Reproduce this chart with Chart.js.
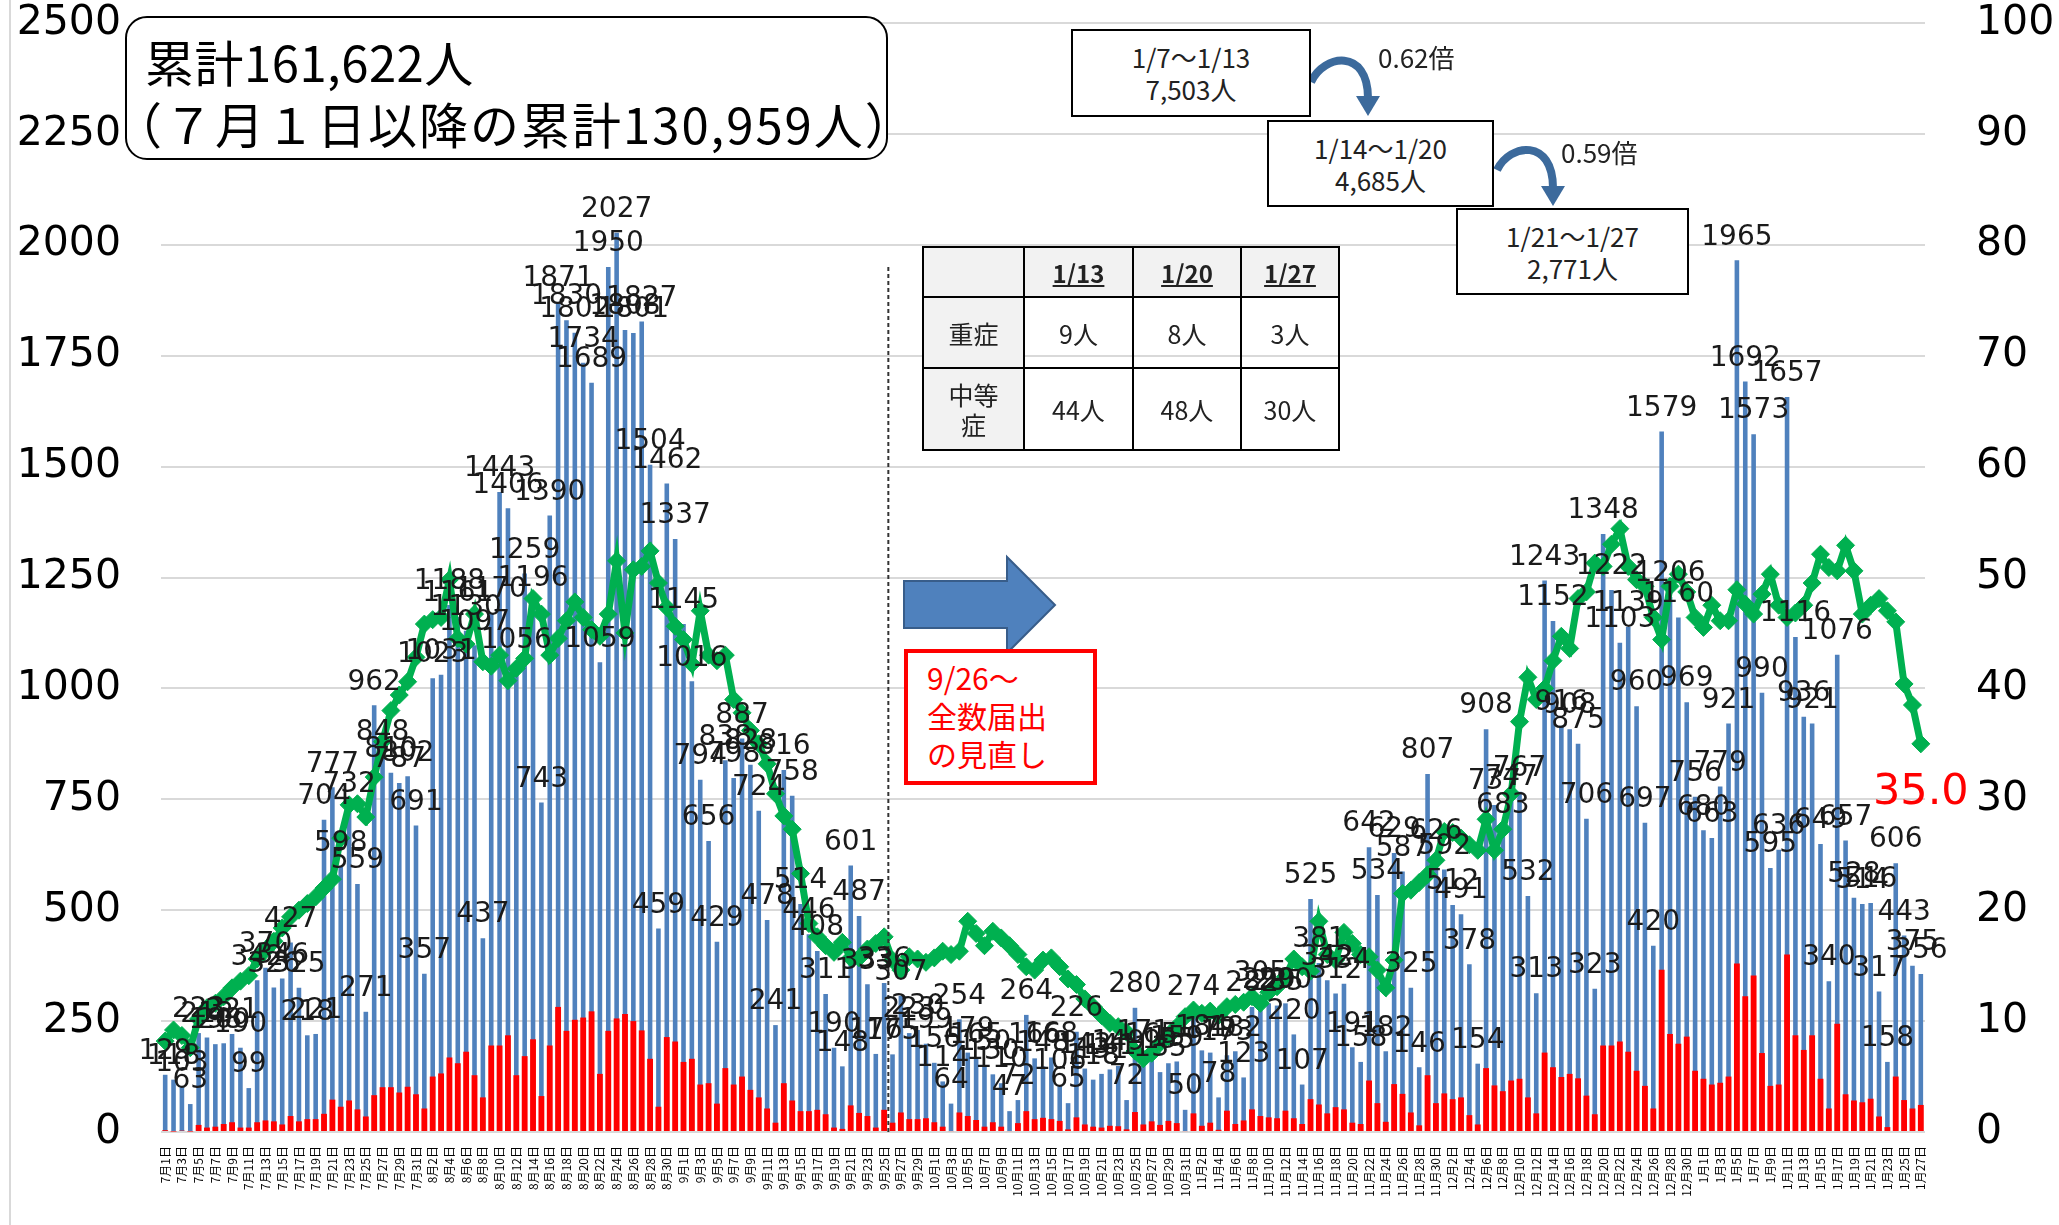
<!DOCTYPE html>
<html lang="ja">
<head>
<meta charset="utf-8">
<title>新規陽性者数の推移</title>
<script src="https://cdn.jsdelivr.net/npm/chart.js@4.4.0/dist/chart.umd.min.js"></script>
<style>
  body { margin: 0; background: #fff; }
  #wrap { position: relative; width: 2059px; height: 1225px; overflow: hidden; font-family: "Noto Sans CJK JP", sans-serif; }
  #c { position: absolute; left: 0; top: 0; }
  .edge { position: absolute; left: 9px; top: 0; width: 2px; height: 1225px; background: #d9d9d9; }
  .title-box { position: absolute; left: 125px; top: 16px; width: 763px; height: 144px; box-sizing: border-box;
               border: 2.5px solid #000; border-radius: 22px; background: #fff; }
  .tl { position: absolute; font-size: 49px; line-height: 58px; color: #000; white-space: nowrap; }
  .wk { position: absolute; box-sizing: border-box; border: 2.5px solid #000; background: #fff; color: #222;
        font-size: 26px; line-height: 32px; text-align: center; display: flex; align-items: center; justify-content: center; }
  .ratio { position: absolute; font-size: 26px; line-height: 32px; color: #222; white-space: nowrap; }
  table.sev { position: absolute; left: 922px; top: 246px; border-collapse: collapse; font-size: 25px; color: #222; }
  table.sev td { border: 2.5px solid #000; text-align: center; vertical-align: middle; padding: 0; }
  table.sev .hd { background: #f2f2f2; font-weight: bold; text-decoration: underline; font-size: 24px; }
  table.sev .rh { background: #f2f2f2; line-height: 30px; }
  .redbox { position: absolute; left: 904px; top: 649px; width: 193px; height: 136px; box-sizing: border-box;
            border: 4px solid #ff0000; background: #fff; color: #ff0000; font-size: 30px; line-height: 38px;
            padding: 5px 0 0 19px; white-space: nowrap; }
  svg { position: absolute; left: 0; top: 0; }
</style>
</head>
<body>
<div id="wrap">
  <div class="edge"></div>
  <canvas id="c" width="2059" height="1225"></canvas>

  <div class="title-box"></div>
  <div class="tl" style="left:145px;top:32px;letter-spacing:0.5px;">累計161,622人</div>
  <div class="tl" style="left:113px;top:94px;letter-spacing:2px;">（７月１日以降の累計130,959人）</div>

  <svg width="2059" height="1225">
    <polygon points="904,581 1007,581 1007,557 1055,605 1007,653 1007,628 904,628" fill="#4F81BD" stroke="#385D8A" stroke-width="2"/>
    <path d="M1311,82 C1324,54 1368,48 1368,98" fill="none" stroke="#3C6A9C" stroke-width="8"/>
    <polygon points="1356,96 1380,96 1368,116" fill="#3C6A9C"/>
    <path d="M1497,170 C1510,143 1553,138 1553,188" fill="none" stroke="#3C6A9C" stroke-width="8"/>
    <polygon points="1541,186 1565,186 1553,206" fill="#3C6A9C"/>
  </svg>

  <div class="wk" style="left:1071px;top:29px;width:240px;height:88px;"><div>1/7～1/13<br>7,503人</div></div>
  <div class="wk" style="left:1267px;top:120px;width:227px;height:87px;"><div>1/14～1/20<br>4,685人</div></div>
  <div class="wk" style="left:1456px;top:208px;width:233px;height:87px;"><div>1/21～1/27<br>2,771人</div></div>
  <div class="ratio" style="left:1378px;top:41px;">0.62倍</div>
  <div class="ratio" style="left:1561px;top:136px;">0.59倍</div>

  <table class="sev">
    <tr style="height:50px;">
      <td class="hd" style="width:99px;"></td>
      <td class="hd" style="width:107px;">1/13</td>
      <td class="hd" style="width:106px;">1/20</td>
      <td class="hd" style="width:96px;">1/27</td>
    </tr>
    <tr style="height:71px;">
      <td class="rh">重症</td><td>9人</td><td>8人</td><td>3人</td>
    </tr>
    <tr style="height:82px;">
      <td class="rh">中等<br>症</td><td>44人</td><td>48人</td><td>30人</td>
    </tr>
  </table>

  <div class="redbox">9/26～<br>全数届出<br>の見直し</div>
</div>

<script>
// 日付 (7月1日〜1月27日)
const months = [7, 8, 9, 10, 11, 12, 1];
const monthDays = [31, 31, 30, 31, 30, 31, 27];

// 新規陽性者数 (青)
const total = [
  129,118,103,63,223,213,198,200,221,190,99,342,370,326,346,427,325,218,221,704,777,598,732,559,271,962,848,810,787,802,691,
  357,1023,1031,1188,1161,1130,1097,437,1170,1443,1406,1056,1259,1196,743,1390,1871,1830,1802,1734,1689,1059,1950,2027,1808,1801,1827,1504,459,1462,1337,
  1145,1016,794,656,429,838,798,887,828,724,478,241,816,758,514,446,408,311,190,148,601,487,333,176,336,175,307,223,230,199,
  156,114,64,254,179,165,150,130,110,47,72,264,166,148,168,106,65,226,143,118,131,141,149,72,280,171,165,135,155,159,50,
  274,184,179,78,173,182,123,282,305,290,285,290,220,107,525,381,342,312,334,191,158,642,534,182,629,587,325,146,807,626,
  592,512,491,378,154,908,737,683,747,767,532,313,1243,1152,916,908,875,706,323,1348,1222,1103,1139,960,697,420,1579,1206,1160,969,756,
  680,663,779,921,1965,1692,1573,990,595,636,1657,1116,936,921,649,340,1076,657,528,514,516,317,158,606,443,375,356
];

// 赤の内数
const redCount = [
  4,1,3,1,16,10,12,18,22,10,10,22,26,24,17,36,24,29,29,41,73,57,71,51,35,83,101,101,89,102,85,
  53,125,132,168,155,181,128,78,195,195,218,128,171,209,81,195,282,228,253,258,272,131,228,256,266,250,229,165,57,214,204,
  158,165,107,110,64,144,107,125,95,78,53,21,110,71,47,47,50,40,10,7,60,43,36,10,50,21,44,29,29,31,
  22,12,2,44,36,27,12,22,12,2,20,47,29,32,29,25,6,33,17,12,10,14,13,6,45,17,24,16,25,20,2,
  42,14,21,5,48,18,26,51,36,33,31,48,31,18,74,62,42,56,51,21,18,116,65,23,108,86,44,15,128,65,
  87,74,78,38,17,144,105,92,116,120,78,42,179,146,124,131,121,82,40,195,195,204,181,138,104,53,366,221,199,215,138,
  120,107,111,125,380,306,353,178,104,107,400,218,185,218,120,53,244,85,71,67,75,35,11,125,72,53,61
];

// 緑の折れ線 (右軸)
const rate = [
  8.2,9.2,8.7,7.6,10.2,11.2,11.6,12.2,13.0,13.6,14.1,15.6,16.4,17.2,18.4,19.4,20.0,20.6,21.2,22.0,22.8,26.5,29.5,29.6,28.4,32.0,35.2,38.0,39.4,40.6,42.8,
  45.8,46.2,46.4,49.8,44.5,44.0,46.7,42.4,42.0,43.0,40.7,41.8,42.7,48.1,46.7,43.0,44.5,46.1,47.8,46.4,45.3,44.7,46.7,51.5,45.0,50.7,51.0,52.4,49.5,47.3,45.6,
  44.4,42.2,47.0,43.0,42.5,43.0,39.0,37.8,36.2,35.0,33.2,30.5,28.5,27.3,23.3,18.8,17.6,16.8,16.2,17.1,15.7,15.7,16.5,17.0,17.6,15.5,14.6,15.8,15.6,15.3,
  15.7,16.3,16.0,16.3,19.0,17.9,16.8,18.1,17.5,16.8,16.0,14.9,14.6,15.5,15.7,14.9,13.8,13.3,12.0,11.3,10.5,9.8,9.5,9.0,7.3,6.6,7.1,8.0,8.6,9.5,10.4,
  11.0,10.7,10.9,10.5,11.3,11.5,11.7,12.2,11.6,12.6,13.1,14.0,15.6,14.9,14.5,19.0,16.0,15.5,18.0,17.0,16.0,15.8,14.6,13.0,15.5,21.5,21.8,22.5,23.2,24.5,
  27.1,27.0,26.5,25.9,25.4,28.2,25.4,27.3,30.5,37.0,41.0,39.0,40.0,42.5,44.7,43.6,48.1,48.7,51.3,51.0,53.0,54.4,51.0,49.8,49.2,46.4,44.4,49.2,50.3,48.7,46.4,
  45.5,47.5,46.1,46.1,48.9,47.6,46.7,48.5,50.3,47.5,46.4,46.8,47.5,49.5,52.1,50.9,50.6,52.9,50.6,46.7,47.5,48.1,47.0,46.0,40.4,38.5,35.0
];

const changeIndex = 87;   // 9/26 全数届出の見直し
const dashTop = 1950;     // 点線の上端 (左軸の値)

const labels = [];
months.forEach((m, k) => {
  for (let d = 1; d <= monthDays[k]; d++) labels.push(m + '月' + d + '日');
});

// 棒の上の数値・点線・最終値
const labelPlugin = {
  id: 'barLabels',
  afterDatasetsDraw(chart) {
    const ctx = chart.ctx;
    const xs = chart.scales.x, ys = chart.scales.y;

    const lx = (xs.getPixelForValue(changeIndex - 1) + xs.getPixelForValue(changeIndex)) / 2;
    ctx.save();
    ctx.strokeStyle = '#333';
    ctx.lineWidth = 2;
    ctx.setLineDash([4, 3]);
    ctx.beginPath();
    ctx.moveTo(lx, ys.getPixelForValue(dashTop));
    ctx.lineTo(lx, ys.bottom);
    ctx.stroke();
    ctx.restore();

    ctx.save();
    ctx.font = '28px "DejaVu Sans"';
    ctx.fillStyle = '#1a1a1a';
    ctx.textAlign = 'center';
    ctx.textBaseline = 'middle';
    chart.getDatasetMeta(2).data.forEach((bar, i) => {
      ctx.fillText(String(total[i]), bar.x, bar.y - 23);
    });

    const pts = chart.getDatasetMeta(0).data;
    const last = pts[pts.length - 1];
    ctx.font = '43px "DejaVu Sans"';
    ctx.fillStyle = '#ff0000';
    ctx.fillText(rate[rate.length - 1].toFixed(1), last.x, last.y + 49);
    ctx.restore();
  }
};

// 軸の余白を固定
function fixY(width) {
  return s => { s.width = width; s.paddingTop = 0; s.paddingBottom = 0; };
}

new Chart(document.getElementById('c'), {
  type: 'bar',
  data: {
    labels: labels,
    datasets: [
      {
        type: 'line',
        data: rate,
        yAxisID: 'y2',
        order: 0,
        borderColor: '#00B050',
        backgroundColor: '#00B050',
        borderWidth: 7,
        pointStyle: 'rectRot',
        pointRadius: 9,
        pointBorderWidth: 1,
        tension: 0,
        clip: 14
      },
      {
        data: redCount,
        yAxisID: 'y',
        order: 1,
        backgroundColor: '#FF0000',
        grouped: false,
        barPercentage: 0.7,
        categoryPercentage: 1
      },
      {
        data: total,
        yAxisID: 'y',
        order: 2,
        backgroundColor: '#4F81BD',
        grouped: false,
        barPercentage: 0.55,
        categoryPercentage: 1
      }
    ]
  },
  options: {
    responsive: false,
    animation: false,
    devicePixelRatio: 1,
    layout: { padding: { top: 23, left: 0, right: 0, bottom: 0 }, autoPadding: false },
    plugins: { legend: { display: false }, tooltip: { enabled: false } },
    scales: {
      x: {
        grid: { display: false, drawTicks: false },
        border: { display: false },
        ticks: {
          autoSkip: false,
          minRotation: 90,
          maxRotation: 90,
          padding: 14,
          color: '#000',
          font: { family: 'Noto Sans CJK JP', size: 12 },
          callback: (v, i) => (i % 2 === 0 ? labels[i] : '')
        },
        afterFit: s => { s.height = 93; s.paddingLeft = 0; s.paddingRight = 0; }
      },
      y: {
        type: 'linear',
        position: 'left',
        min: 0,
        max: 2500,
        ticks: { stepSize: 250, padding: 40, color: '#000', font: { family: 'DejaVu Sans', size: 41 }, callback: v => String(v) },
        grid: { color: '#d9d9d9', lineWidth: 2, drawTicks: false },
        border: { display: false },
        afterFit: fixY(161)
      },
      y2: {
        type: 'linear',
        position: 'right',
        min: 0,
        max: 100,
        ticks: { stepSize: 10, padding: 51, color: '#000', font: { family: 'DejaVu Sans', size: 41 }, callback: v => String(v) },
        grid: { display: false, drawTicks: false, drawOnChartArea: false },
        border: { display: false },
        afterFit: fixY(134)
      }
    }
  },
  plugins: [labelPlugin]
});
</script>
</body>
</html>
